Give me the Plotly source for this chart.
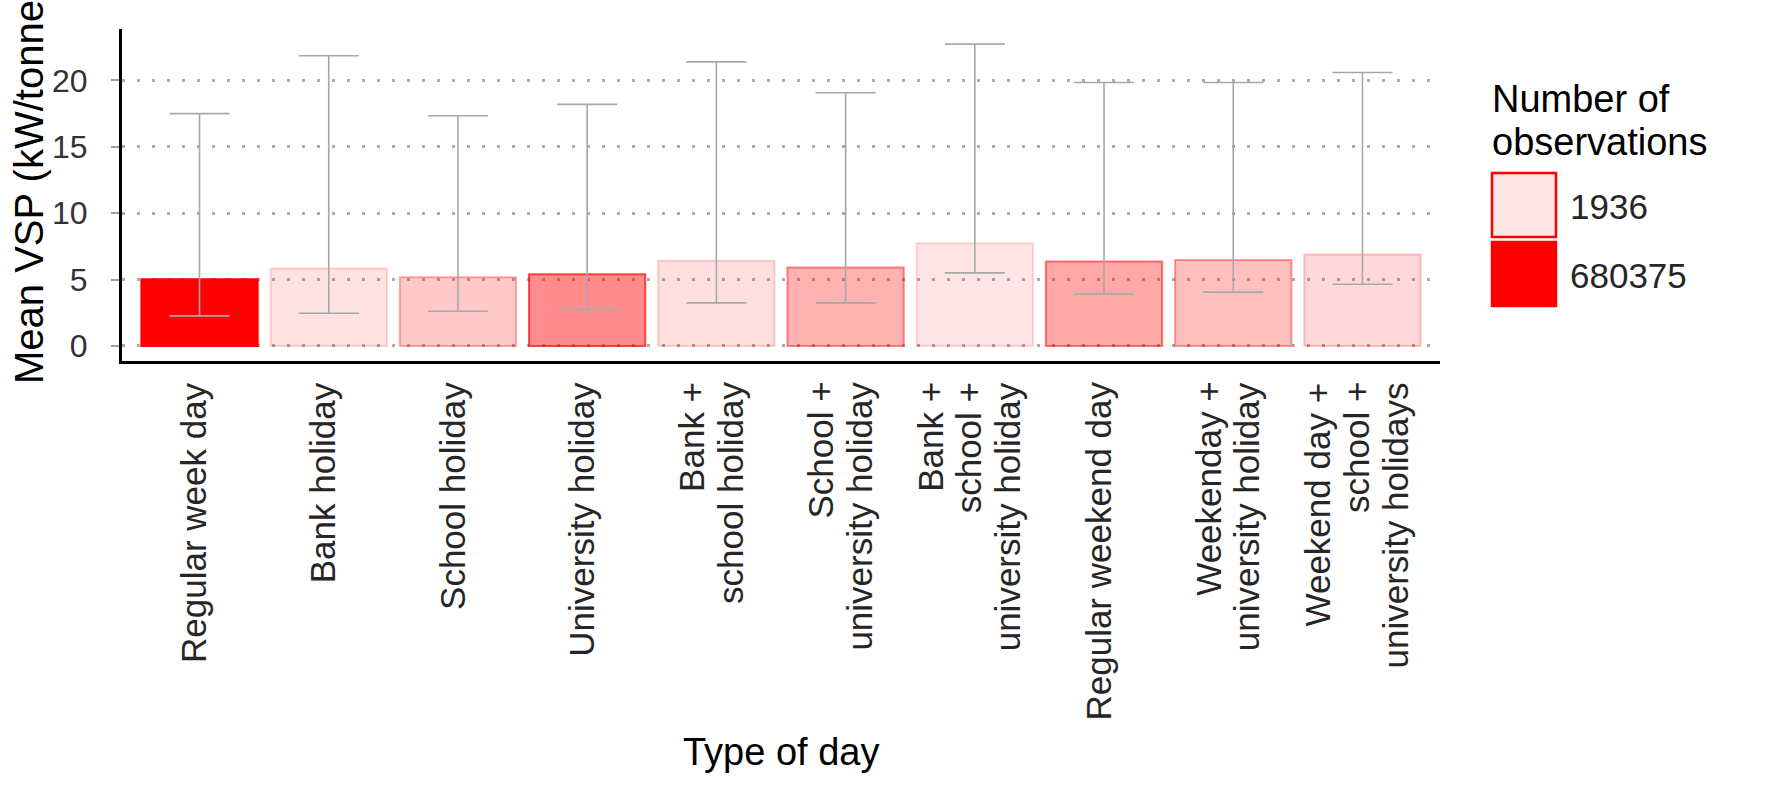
import plotly.graph_objects as go

# Type of day categories; each entry lists the lines of its axis label
categories = [
    ["Regular week day"],
    ["Bank holiday"],
    ["School holiday"],
    ["University holiday"],
    ["Bank +", "school holiday"],
    ["School +", "university holiday"],
    ["Bank +", "school +", "university holiday"],
    ["Regular weekend day"],
    ["Weekenday +", "university holiday"],
    ["Weekend day +", "school +", "university holidays"],
]

# Mean VSP (kW/tonne) and the lower / upper limits of the error bars
mean_vsp = [5.03, 5.83, 5.18, 5.40, 6.41, 5.90, 7.74, 6.36, 6.48, 6.88]
err_low = [2.26, 2.46, 2.61, 2.74, 3.24, 3.24, 5.50, 3.92, 4.05, 4.65]
err_high = [17.5, 21.86, 17.34, 18.2, 21.4, 19.07, 22.74, 19.85, 19.85, 20.6]

# Number of observations per type of day (mapped to bar opacity)
n_obs = [680375, 9500, 85000, 266000, 17000, 153000, 1936, 183000, 115000, 39600]

legend_breaks = [1936, 680375]
y_ticks = [0, 5, 10, 15, 20]

FONT = "Liberation Sans, Arial, sans-serif"
ALPHA_RANGE = (0.1, 1.0)

n_min, n_max = min(n_obs), max(n_obs)


def alpha_of(n):
    t = (n - n_min) / (n_max - n_min)
    return ALPHA_RANGE[0] + t * (ALPHA_RANGE[1] - ALPHA_RANGE[0])


fill_colors = [f"rgba(255,0,0,{alpha_of(n):.3f})" for n in n_obs]
line_colors = [f"rgba(255,0,0,{min(1.0, alpha_of(n) * 1.5):.3f})" for n in n_obs]
cat_keys = [" + ".join(lines) for lines in categories]

# Figure geometry (pixels)
FIG_W, FIG_H = 1775, 790
M_L, M_R, M_T, M_B = 122, 335, 29, 429
PLOT_W = FIG_W - M_L - M_R
PLOT_H = FIG_H - M_T - M_B


def px_x(px):
    return (px - M_L) / PLOT_W


def px_y(py):
    return (FIG_H - M_B - py) / PLOT_H


fig = go.Figure()
fig.add_trace(
    go.Bar(
        x=cat_keys,
        y=mean_vsp,
        width=0.9,
        marker=dict(color=fill_colors, line=dict(color=line_colors, width=2)),
        error_y=dict(
            type="data",
            symmetric=False,
            array=[h - m for h, m in zip(err_high, mean_vsp)],
            arrayminus=[m - l for m, l in zip(mean_vsp, err_low)],
            color="#A8A8A8",
            thickness=1.6,
            width=30,
        ),
        showlegend=False,
        hoverinfo="skip",
    )
)

y_lo = -0.05 * max(err_high)
y_hi = max(err_high) * 1.05

fig.update_xaxes(
    type="category",
    categoryorder="array",
    categoryarray=cat_keys,
    range=[-0.6, len(categories) - 0.4],
    showline=True,
    linecolor="black",
    linewidth=3,
    showgrid=False,
    ticks="",
    showticklabels=False,
    zeroline=False,
)
fig.update_yaxes(
    range=[y_lo, y_hi],
    tickvals=y_ticks,
    showline=True,
    linecolor="black",
    linewidth=3,
    showgrid=True,
    gridcolor="#ABABAB",
    gridwidth=2.5,
    griddash="3px,12px",
    ticks="outside",
    ticklen=8,
    tickwidth=2,
    tickcolor="#A0A0A0",
    ticklabelstandoff=17,
    tickfont=dict(family=FONT, size=32, color="#333333"),
    zeroline=False,
)

annotations = []

# Rotated category labels, one annotation per line so the line spacing is tight
LINE_STEP = 39
for key, lines in zip(cat_keys, categories):
    k = len(lines)
    for j, line in enumerate(lines):
        annotations.append(
            dict(
                text=line,
                x=key, xref="x",
                y=px_y(380), yref="paper",
                xanchor="center", yanchor="top",
                xshift=(j - (k - 1) / 2) * LINE_STEP - 6,
                textangle=-90, showarrow=False,
                font=dict(family=FONT, size=35, color="#262626"),
            )
        )

annotations += [
    # y-axis title (runs past the top edge of the figure)
    dict(
        text="Mean VSP (kW/tonne)",
        x=px_x(29), y=px_y(186), xref="paper", yref="paper",
        xanchor="center", yanchor="middle", textangle=-90, showarrow=False,
        font=dict(family=FONT, size=40, color="black"),
    ),
    # x-axis title
    dict(
        text="Type of day",
        x=px_x(781), y=px_y(752), xref="paper", yref="paper",
        xanchor="center", yanchor="middle", showarrow=False,
        font=dict(family=FONT, size=38, color="black"),
    ),
    # legend title, one line per annotation
    dict(
        text="Number of",
        x=px_x(1490), y=px_y(99), xref="paper", yref="paper",
        xanchor="left", yanchor="middle", showarrow=False,
        font=dict(family=FONT, size=38, color="black"),
    ),
    dict(
        text="observations",
        x=px_x(1490), y=px_y(142), xref="paper", yref="paper",
        xanchor="left", yanchor="middle", showarrow=False,
        font=dict(family=FONT, size=38, color="black"),
    ),
]

shapes = []
key_tops = [173, 242]
for brk, top in zip(legend_breaks, key_tops):
    a = alpha_of(brk)
    shapes.append(
        dict(
            type="rect", xref="paper", yref="paper",
            x0=px_x(1492), x1=px_x(1556), y0=px_y(top + 64), y1=px_y(top),
            fillcolor=f"rgba(255,0,0,{a:.3f})",
            line=dict(color="#FF0000", width=2.5),
        )
    )
    annotations.append(
        dict(
            text=str(brk),
            x=px_x(1568), y=px_y(top + 33), xref="paper", yref="paper",
            xanchor="left", yanchor="middle", showarrow=False,
            font=dict(family=FONT, size=35, color="#262626"),
        )
    )

fig.update_layout(
    width=FIG_W,
    height=FIG_H,
    margin=dict(l=M_L, r=M_R, t=M_T, b=M_B, autoexpand=False),
    paper_bgcolor="white",
    plot_bgcolor="white",
    annotations=annotations,
    shapes=shapes,
    showlegend=False,
)

fig.write_html("out.html")
